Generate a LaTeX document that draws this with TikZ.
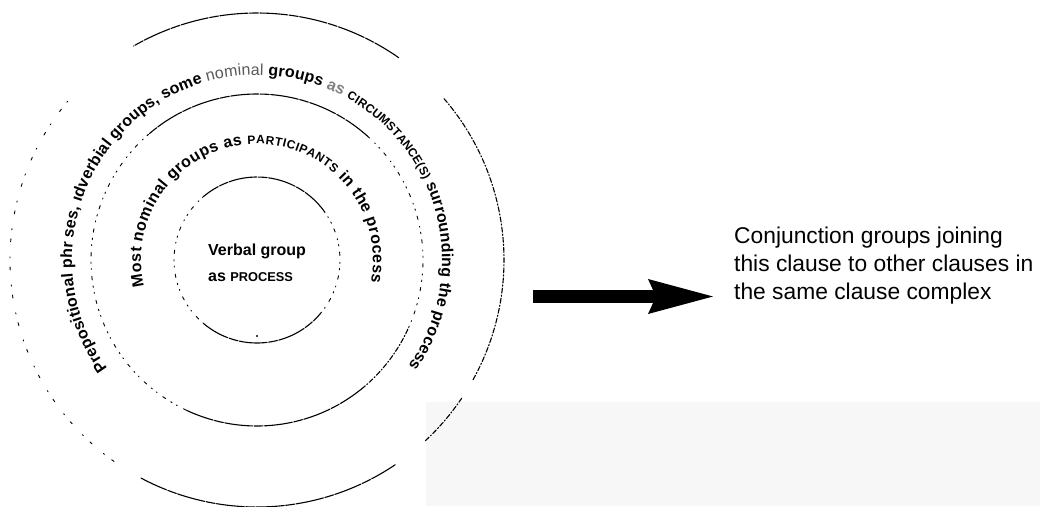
\documentclass[tikz,border=0pt]{standalone}
\usepackage{fontspec}
\setmainfont{Liberation Sans}
\usetikzlibrary{decorations.text,arrows.meta}
\definecolor{paper}{RGB}{247,247,247}
% fonts used for the lettering that runs round the rings
\newcommand\arcbf{\fontsize{16}{19}\selectfont\bfseries\color{black}}
\newcommand\arcmd{\fontsize{16}{19}\selectfont\mdseries\color{black!65}}
\newcommand\arcgray{\fontsize{16}{19}\selectfont\bfseries\color{black!50}}
\newcommand\arcsc{\fontsize{12}{14}\selectfont\bfseries\color{black}}
\begin{document}
\begin{tikzpicture}[x=1pt,y=1pt,
  ring/.style={line width=1.1pt, line cap=round},
  firm/.style={ring, dash pattern={on 28pt off 1.5pt on 9pt off 1.5pt}},
  broken/.style={ring, line width=0.9pt, dash pattern={on 1.5pt off 5pt on 1pt off 7pt on 3.5pt off 6pt}},
  dashdot/.style={ring, dash pattern={on 5pt off 2pt on 1.2pt off 2pt}},
  sparse/.style={ring, line width=0.9pt, dash pattern={on 1.2pt off 9pt on 3pt off 15pt}},
  label/.style={inner sep=0pt, align=left, anchor=north west}
]
% page, with the centre of the rings at the origin
\fill[white] (-257,-246) rectangle (783,260);
\useasboundingbox (-257,-246) rectangle (783,260);
\fill[paper] (169,-142) rectangle (783,-246);

\coordinate (C) at (0,0);

% innermost ring
\draw[firm]   (35:83)  arc[start angle=35,  end angle=130, radius=83];
\draw[broken] (130:83) arc[start angle=130, end angle=230, radius=83];
\draw[firm]   (230:83) arc[start angle=230, end angle=320, radius=83];
\draw[broken] (320:83) arc[start angle=320, end angle=395, radius=83];
\fill (0,-76) circle (1.2pt);

% middle ring
\draw[firm]    (48:166)  arc[start angle=48,  end angle=131, radius=166];
\draw[broken]  (131:166) arc[start angle=131, end angle=245, radius=166];
\draw[firm]    (245:166) arc[start angle=245, end angle=309, radius=166];
\draw[dashdot] (309:166) arc[start angle=309, end angle=336, radius=166];
\draw[broken]  (336:166) arc[start angle=336, end angle=408, radius=166];

% outer ring
\draw[firm]    (55:247)  arc[start angle=55,  end angle=120, radius=247];
\draw[sparse]  (140:247) arc[start angle=140, end angle=237, radius=247];
\draw[firm]    (242:247) arc[start angle=242, end angle=304, radius=247];
\draw[dashdot] (313:247) arc[start angle=313, end angle=326, radius=247];
\draw[dashdot] (331:247) arc[start angle=331, end angle=401, radius=247];

% lettering between the outer and middle rings
\path[decorate, decoration={text along path, text align={fit to path},
  text={|\arcbf|Prepositional phr ses, ıdverbial groups, some |\arcmd|nominal|\arcbf| groups |\arcgray|as|\arcbf| |\arcsc|CIRCUMSTANCE(S)|\arcbf| surrounding the process}}]
  (216:185) arc[start angle=216, end angle=-35, radius=185];

% lettering between the middle and inner rings
\path[decorate, decoration={text along path, text align={fit to path},
  text={|\arcbf|Most nominal groups as |\arcsc|PARTICIPANTS|\arcbf| in the process}}]
  (193:116) arc[start angle=193, end angle=-11, radius=116];

% centre label
\node[label, font=\fontsize{16}{26}\selectfont\bfseries] (verbal) at (-49,16.5)
  {Verbal group\\as {\fontsize{12.8}{12.8}\selectfont PROCESS}};

% label on the right and the arrow pointing to it
\node[label, font=\fontsize{22.8}{28}\selectfont] (conj) at (477,33)
  {Conjunction groups joining\\this clause to other clauses in\\the same clause complex};
\coordinate (tail) at (276,-36.5);
\coordinate (tip) at (456,-36.5);
\draw[line width=13pt, -{Stealth[length=65pt, width=35pt, inset=8pt, line width=0pt]}] (tail) -- (tip);
\end{tikzpicture}
\end{document}
